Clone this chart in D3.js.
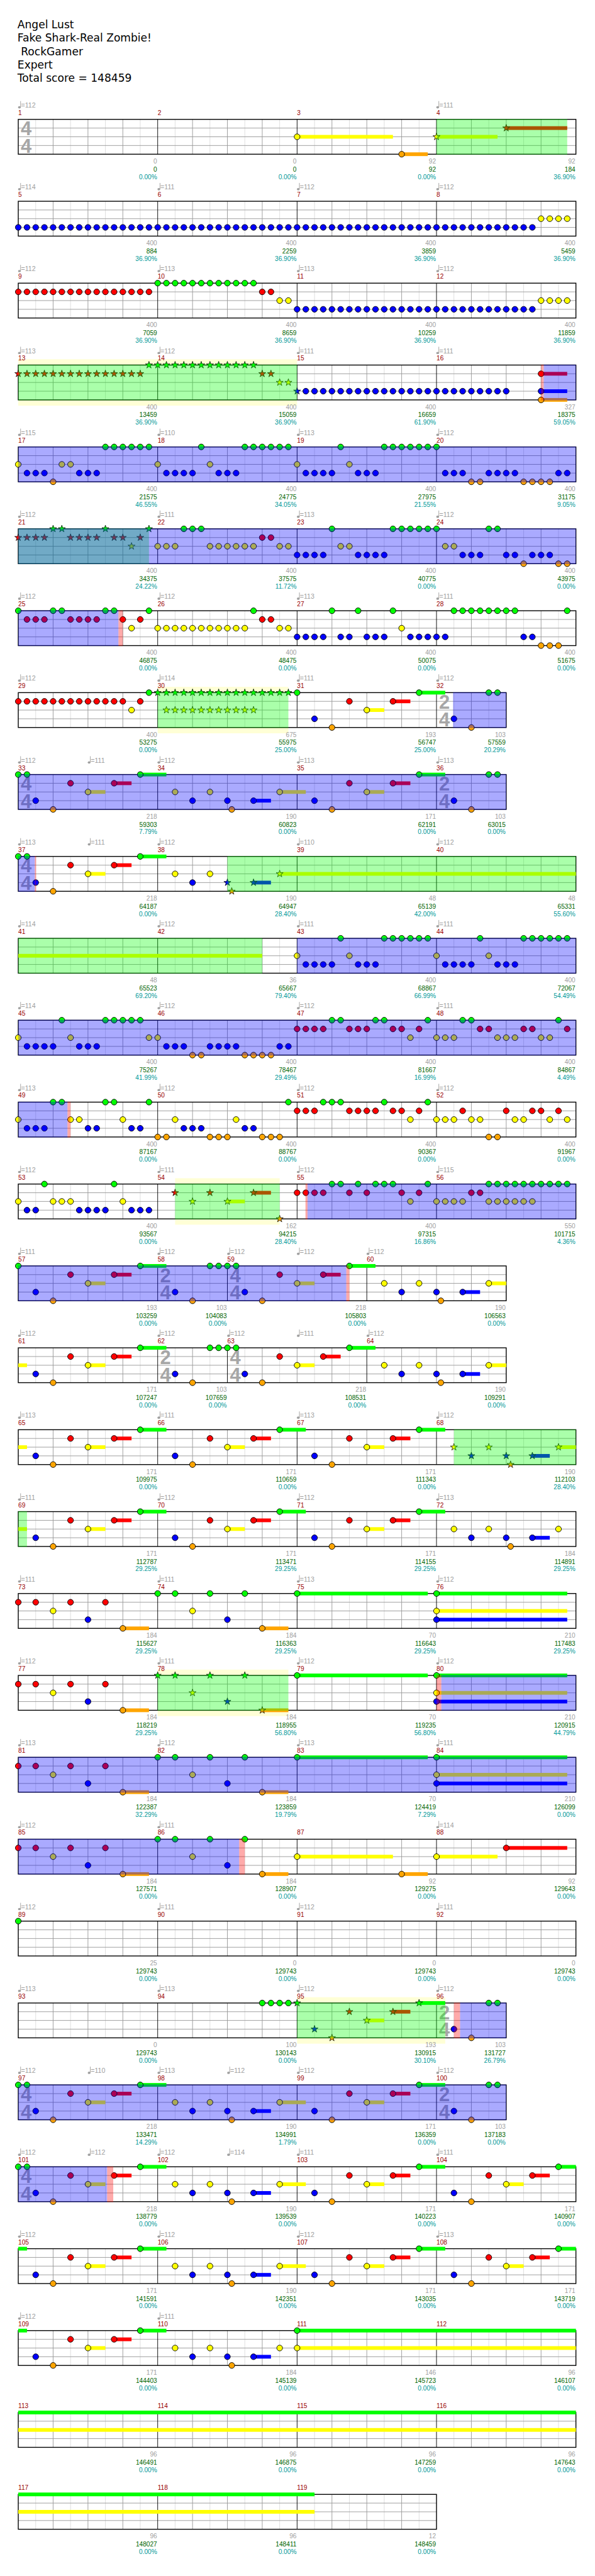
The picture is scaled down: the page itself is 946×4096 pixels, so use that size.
<!DOCTYPE html>
<html><head><meta charset="utf-8">
<script src="https://cdn.jsdelivr.net/npm/d3@7"></script>
<style>body{margin:0;background:#fff} svg{display:block}</style>
</head><body>
<script>
// ---------------- DATA ----------------
const titleLines = ["Angel Lust", "Fake Shark-Real Zombie!", " RockGamer", "Expert", "Total score = 148459"];

const measureBeats = [4,4,4,4, 4,4,4,4, 4,4,4,4, 4,4,4,4, 4,4,4,4, 4,4,4,4, 4,4,4,4, 4,4,4,2,
  4,4,4,2, 4,4,4,4, 4,4,4,4, 4,4,4,4, 4,4,4,4, 4,4,4,4, 4,2,4,4, 4,2,4,4, 4,4,4,4, 4,4,4,4,
  4,4,4,4, 4,4,4,4, 4,4,4,4, 4,4,4,4, 4,4,4,4, 4,4,4,2, 4,4,4,2, 4,4,4,4, 4,4,4,4, 4,4,4,4,
  4,4,4,4, 4,4,4];

const timeSigs = [[1,4,4],[32,2,4],[33,4,4],[36,2,4],[37,4,4],[58,2,4],[59,4,4],[62,2,4],[63,4,4],
  [96,2,4],[97,4,4],[100,2,4],[101,4,4]];

// [measure, position in 16ths, bpm]
const tempos = [[1,0,112],[4,0,111],[5,0,114],[6,0,111],[7,0,112],[8,0,112],[9,0,112],[10,0,113],[11,0,113],[12,0,112],
  [13,0,113],[14,0,112],[15,0,111],[16,0,111],[17,0,115],[18,0,110],[19,0,113],[20,0,112],[21,0,112],[22,0,111],
  [23,0,113],[24,0,112],[25,0,112],[26,0,112],[27,0,113],[28,0,111],[29,0,112],[30,0,114],[31,0,111],[32,0,112],
  [33,0,112],[33,8,111],[34,0,112],[35,0,113],[36,0,113],[37,0,113],[37,8,111],[38,0,112],[39,0,110],[40,0,112],
  [41,0,114],[42,0,112],[43,0,111],[44,0,111],[45,0,114],[46,0,112],[47,0,112],[48,0,111],[49,0,113],[50,0,112],
  [51,0,112],[52,0,112],[53,0,112],[54,0,111],[55,0,112],[56,0,115],[57,0,111],[58,0,112],[59,0,112],[59,8,112],
  [60,0,112],[61,0,112],[62,0,112],[63,0,112],[63,8,111],[64,0,112],[65,0,113],[66,0,111],[67,0,113],[68,0,112],
  [69,0,111],[70,0,112],[71,0,112],[72,0,113],[73,0,111],[74,0,111],[75,0,113],[76,0,112],[77,0,112],[78,0,111],
  [79,0,112],[80,0,112],[81,0,113],[82,0,112],[83,0,113],[84,0,111],[85,0,112],[86,0,111],[88,0,114],[89,0,112],
  [90,0,111],[91,0,112],[92,0,111],[93,0,113],[94,0,113],[95,0,112],[96,0,112],[97,0,112],[97,8,110],[98,0,113],
  [98,8,112],[99,0,112],[100,0,112],[101,0,112],[101,8,112],[102,0,112],[102,8,114],[103,0,111],[104,0,111],
  [105,0,112],[106,0,112],[107,0,112],[108,0,113],[109,0,112],[110,0,111]];

const measureScore = [0,0,92,92, 400,400,400,400, 400,400,400,400, 400,400,400,327, 400,400,400,400,
  400,400,400,400, 400,400,400,400, 400,675,193,103, 218,190,171,103, 218,190,48,48, 48,36,400,400,
  400,400,400,400, 400,400,400,400, 400,162,400,550, 193,103,218,190, 171,103,218,190, 171,171,171,190,
  171,171,171,184, 184,184,70,210, 184,184,70,210, 184,184,70,210, 184,184,92,92, 25,0,0,0,
  0,100,193,103, 218,190,171,103, 218,190,171,171, 171,190,171,171, 171,184,146,96, 96,96,96,96, 96,96,12];

const totalScore = [0,0,92,184, 884,2259,3859,5459, 7059,8659,10259,11859, 13459,15059,16659,18375,
  21575,24775,27975,31175, 34375,37575,40775,43975, 46875,48475,50075,51675, 53275,55975,56747,57559,
  59303,60823,62191,63015, 64187,64947,65139,65331, 65523,65667,68867,72067, 75267,78467,81667,84867,
  87167,88767,90367,91967, 93567,94215,97315,101715, 103259,104083,105803,106563, 107247,107659,108531,109291,
  109975,110659,111343,112103, 112787,113471,114155,114891, 115627,116363,116643,117483, 118219,118955,119235,120915,
  122387,123859,124419,126099, 127571,128907,129275,129643, 129743,129743,129743,129743, 129743,130143,130915,131727,
  133471,134991,136359,137183, 138779,139539,140223,140907, 141591,142351,143035,143719, 144403,145139,145723,146107,
  146491,146875,147259,147643, 148027,148411,148459];

const percentText = ["0.00%","0.00%","0.00%","36.90%", "36.90%","36.90%","36.90%","36.90%",
  "36.90%","36.90%","36.90%","36.90%", "36.90%","36.90%","61.90%","59.05%", "46.55%","34.05%","21.55%","9.05%",
  "24.22%","11.72%","0.00%","0.00%", "0.00%","0.00%","0.00%","0.00%", "0.00%","25.00%","25.00%","20.29%",
  "7.79%","0.00%","0.00%","0.00%", "0.00%","28.40%","42.00%","55.60%", "69.20%","79.40%","66.99%","54.49%",
  "41.99%","29.49%","16.99%","4.49%", "0.00%","0.00%","0.00%","0.00%", "0.00%","28.40%","16.86%","4.36%",
  "0.00%","0.00%","0.00%","0.00%", "0.00%","0.00%","0.00%","0.00%", "0.00%","0.00%","0.00%","28.40%",
  "29.25%","29.25%","29.25%","29.25%", "29.25%","29.25%","29.25%","29.25%", "29.25%","56.80%","56.80%","44.79%",
  "32.29%","19.79%","7.29%","0.00%", "0.00%","0.00%","0.00%","0.00%", "0.00%","0.00%","0.00%","0.00%",
  "0.00%","0.00%","30.10%","26.79%", "14.29%","1.79%","0.00%","0.00%", "0.00%","0.00%","0.00%","0.00%",
  "0.00%","0.00%","0.00%","0.00%", "0.00%","0.00%","0.00%","0.00%", "0.00%","0.00%","0.00%","0.00%",
  "0.00%","0.00%","0.00%"];

// per measure: "<pos16><lanes>[~sustain16]" ; lanes g r y b o ; uppercase = star note
const noteCharts = [
  "", "", "0y~11 12o~3", "0Y~7 8R~7",
  "0b 1b 2b 3b 4b 5b 6b 7b 8b 9b 10b 11b 12b 13b 14b 15b",
  "0b 1b 2b 3b 4b 5b 6b 7b 8b 9b 10b 11b 12b 13b 14b 15b",
  "0b 1b 2b 3b 4b 5b 6b 7b 8b 9b 10b 11b 12b 13b 14b 15b",
  "0b 1b 2b 3b 4b 5b 6b 7b 8b 9b 10b 11b 12y 13y 14y 15y",
  "0r 1r 2r 3r 4r 5r 6r 7r 8r 9r 10r 11r 12r 13r 14r 15r",
  "0g 1g 2g 3g 4g 5g 6g 7g 8g 9g 10g 11g 12r 13r 14y 15y",
  "0b 1b 2b 3b 4b 5b 6b 7b 8b 9b 10b 11b 12b 13b 14b 15b",
  "0b 1b 2b 3b 4b 5b 6b 7b 8b 9b 10b 11b 12y 13y 14y 15y",
  "0R 1R 2R 3R 4R 5R 6R 7R 8R 9R 10R 11R 12R 13R 14R 15G",
  "0G 1G 2G 3G 4G 5G 6G 7G 8G 9G 10G 11G 12R 13R 14Y 15Y",
  "0B 1b 2b 3b 4b 5b 6b 7b 8b 9b 10b 11b 12b 13b 14b 15b",
  "0b 1b 2b 3b 4b 5b 6b 7b 8b 12rbo~3",
  "0y 1b 2b 3b 4o 5y 6y 7b 8b 9b 10g 11g 12g 13g 14g 15g",
  "0y 1b 2b 3b 4b 5g 6y 7b 8b 9b 10g 11g 12g 13g 14g 15g",
  "0y 1b 2b 3b 4b 5g 6y 7b 8b 9b 10g 11g 12g 13g 14g 15g",
  "0g 1b 2b 3b 4o 5o 6b 7b 8b 9b 10o 11o 12o 13o 14b 15b",
  "0R 1R 2R 3R 4G 5G 6R 7R 8R 9R 10G 11R 12R 13Y 14R 15G",
  "0y 1y 2y 3g 4g 5g 6y 7y 8y 9y 10y 11y 12r 13r 14y 15y",
  "0b 1b 2b 3b 4g 5y 6y 7b 8b 9b 10b 11g 12g 13g 14g 15g",
  "0g 1y 2y 3b 4b 5b 6g 7g 8b 9b 10o 11b 12b 13b 14o 15o",
  "0g 1r 2r 3r 4g 5g 6r 7r 8r 9r 10g 11g 12r 13y 14r 15g",
  "0y 1y 2y 3y 4y 5y 6y 7y 8y 9y 10y 11g 12r 13r 14y 15y",
  "0b 1b 2b 3b 4g 5b 6b 7g 8b 9b 10b 11g 12y 13b 14b 15b",
  "0b 1b 2g 3g 4g 5g 6g 7g 8g 9g 10b 11b 12o 13o 14o 15g",
  "0r 1r 2r 3r 4r 5r 6r 7r 8r 9r 10r 11r 12r 13y 14r 15g",
  "0G 1GY 2GY 3GY 4GY 5GY 6GY 7GY 8GY 9GY 10GY 11GY 12G 13G 14G 15G",
  "0g 2b 4o 6r 8y~2 11r~2 14g~3",
  "2b 4o 6g 7g",
  "0g 1g 2b 4o 6r 8y~2 11r~2 14g~3",
  "2y 4b 6y 8b 8.5o 11b~2 14y~3",
  "2b 4o 6r 8y~2 11r~2 14g~3",
  "2b 4o 6g 7g",
  "0g 1g 2b 4o 6r 8y~2 11r~2 14g~3",
  "2y 4b 6y 8B 8.5O 11B~2 14Y~62",
  "", "", "", "",
  "0y 1b 2b 3b 4b 5g 6y 7b 8b 9b 10g 11g 12g 13g 14g 15g",
  "0y 1b 2b 3b 4b 5g 6y 7b 8b 9b 10g 11g 12g 13g 14g 15g",
  "0y 1b 2b 3b 4b 5g 6y 7b 8b 9b 10g 11g 12g 13g 14g 15y",
  "0y 1b 2b 3b 4o 5o 6b 7b 8b 9b 10o 11o 12o 13o 14b 15b",
  "0r 1r 2r 3r 4g 5g 6r 7r 8r 9g 10g 11r 12r 13y 14r 15g",
  "0y 1y 2y 3g 4g 5r 6r 7y 8y 9y 10r 11r 12y 13y 14g 15r",
  "0y 1b 2b 3b 4g 5g 6y 7y 8b 9b 10g 11g 12y 13b 14b 15g",
  "0o 1o 2y 3b 4b 5b 6o 7o 8o 9y 10b 11b 12o 13o 14o 15g",
  "0r 1r 2r 3g 4g 5g 6r 7r 8r 9r 10g 11r 12r 13y 14r 15g",
  "0y 1y 2y 3r 4y 5y 6o 7o 8r 9y 10y 11r 12r 13y 14r 15y",
  "0y 1b 2b 3g 4y 5y 6y 7b 8b 9b 10b 11g 12y 13b 14b 15b",
  "2R 4Y 6R 8Y~2 11R~2 14O",
  "0r 1r 2r 3r 4g 5g 6r 7g 8r 9g 10g 11g 12r 13y 14r 15g",
  "0y 1y 2y 3y 4r 5r 6gy 7gy 8gy 9gy 10gy 11gy 12g 13g 14g 15g",
  "0g 2b 4o 6r 8y~2 11r~2 14g~3",
  "2b 4o 6g 7g",
  "0g 1g 2b 4o 6r 8y~2 11r~2 14g~3",
  "2y 4b 6y 8b 8.5o 11b~2 14y~3",
  "2b 4o 6r 8y~2 11r~2 14g~3",
  "2b 4o 6g 7g",
  "0g 1g 2b 4o 6r 8y~2 11r~2 14g~3",
  "2y 4b 6y 8b 8.5o 11b~2 14y~3",
  "2b 4o 6r 8y~2 11r~2 14g~3",
  "2b 4o 6r 8y~2 11r~2 14g~3",
  "2b 4o 6r 8y~2 11r~2 14g~3",
  "2Y 4B 6Y 8B 8.5O 11B~2 14Y~3",
  "2b 4o 6r 8y~2 11r~2 14g~3",
  "2b 4o 6r 8y~2 11r~2 14g~3",
  "2b 4o 6r 8y~2 11r~2 14g~3",
  "2y 4b 6y 8b 8.5o 11b~2 14y",
  "0r 2r 4y 6r 8b 10r 12o~3",
  "0g 2g 4y 6g 8b 10g 12o~3",
  "0g~15",
  "0gyb~15",
  "0r 2r 4y 6r 8b 10r 12o~3",
  "0G 2G 4Y 6G 8B 10G 12O~3",
  "0g~15",
  "0gyb~15",
  "0r 2r 4y 6r 8b 10r 12o~3",
  "0g 2g 4y 6g 8b 10g 12o~3",
  "0g~15",
  "0gyb~15",
  "0r 2r 4y 6r 8b 10r 12o~3",
  "0g 2g 4y 6g 8b 10g 12o~3",
  "0y~11 12o~3",
  "0y~7 8r~7",
  "0g", "", "", "",
  "", "12g 13g 14g 15g",
  "0G 2B 4O 6R 8Y~2 11R~2 14G~3",
  "2b 4o 6g 7g",
  "0g 1g 2b 4o 6r 8y~2 11r~2 14g~3",
  "2y 4b 6y 8b 8.5o 11b~2 14y~3",
  "2b 4o 6r 8y~2 11r~2 14g~3",
  "2b 4o 6g 7g",
  "0g 1g 2b 4o 6r 8y~2 11r~2 14g~3",
  "2y 4b 6y 8b 8.5o 11b~2 14y~3",
  "2b 4o 6r 8y~2 11r~2 14g~3",
  "2b 4o 6r 8y~2 11r~2 14g~3",
  "2b 4o 6r 8y~2 11r~2 14g~3",
  "2y 4b 6y 8b 8.5o 11b~2 14y~3",
  "2b 4o 6r 8y~2 11r~2 14g~3",
  "2b 4o 6r 8y~2 11r~2 14g~3",
  "2b 4o 6r 8y~2 11r~2 14g~3",
  "2y 4b 6y 8b 8.5o 11b~2 14y",
  "0gy~130", "",
  "", "", "", "",
  "", "", ""
];

// regions: [measureA, posA, measureB, posB]
const phraseBands = [[13,0,14,16],[30,0,30,15],[54,2,54,14],[78,0,78,15],[95,0,96,1]];
const starRegions = [[4,0,4,15],[13,0,14,16],[21,0,21,15],[30,0,30,15],[38,8,42,12],[54,2,54,14],[68,2,69,1],[78,0,78,15],[95,0,96,1]];
const driveRegions = [[16,12.3,25,11.5],[32,1.9,37,1.9],[43,0,49,5.65],[55,1.2,59,13.65],[80,0.55,86,9.35],[96,2.7,101,10.2]];
const activationMarks = [[16,12,16,12.3],[25,11.5,25,12],[37,1.9,37,2.05],[49,5.65,49,6],[55,0.96,55,1.2],[59,13.65,59,14],
  [80,0,80,0.55],[86,9.35,86,10],[96,2,96,2.7],[101,10.2,101,10.9]];

// ---------------- DRAWING ----------------
const laneFill = ["#00ff00", "#ff0000", "#ffff00", "#0000ff", "#ffa500"];
const X0 = 31.3, PX = 15, TOP0 = 205.5, ROWH = 141, STAFFH = 60;
const SMALL = "'Liberation Sans', Arial, sans-serif";

const svg = d3.select("body").append("svg")
  .attr("width", 946).attr("height", 4096)
  .attr("viewBox", "0 0 1024 4435");

svg.append("g").selectAll("text").data(titleLines).join("text")
  .attr("x", 30).attr("y", (d, i) => 48.5 + i * 23.15)
  .attr("font-family", "'DejaVu Sans', sans-serif").attr("font-size", 18.5)
  .attr("fill", "#000").style("white-space", "pre").text(d => d);

const nM = measureBeats.length;
const mStart = [];
let acc = 0;
measureBeats.forEach(b => { mStart.push(acc); acc += b * 4; });
const mEnd = i => mStart[i] + measureBeats[i] * 4;
const tickOf = (m, p) => mStart[m - 1] + p;
const measureAt = t => d3.bisectRight(mStart, t) - 1;

// parse notes
const notes = [];
noteCharts.forEach((str, i) => {
  str.split(/\s+/).filter(Boolean).forEach(tok => {
    const mt = tok.match(/^([\d.]+)([a-zA-Z]+)(?:~(\d+))?$/);
    const pos = +mt[1], sus = mt[3] ? +mt[3] : 0;
    for (const ch of mt[2]) {
      const lane = "gryboGRYBO".indexOf(ch) % 5;
      notes.push({ tick: tickOf(i + 1, pos), lane, sus, star: ch !== ch.toLowerCase() });
    }
  });
});

const rows = d3.range(Math.ceil(nM / 4)).map(r => {
  const ms = d3.range(r * 4, Math.min(nM, r * 4 + 4));
  return { ms, t0: mStart[ms[0]], t1: mEnd(ms[ms.length - 1]), top: TOP0 + r * ROWH };
});

const starSym = d3.symbol().type(d3.symbolStar).size(46);

rows.forEach(row => {
  const g = svg.append("g");
  const x = d3.scaleLinear().domain([row.t0, row.t1]).range([X0, X0 + (row.t1 - row.t0) * PX]);
  const y = d3.scaleLinear().domain([0, 4]).range([row.top, row.top + STAFFH]);
  const spans = list => list.map(([m1, p1, m2, p2]) => [tickOf(m1, p1), tickOf(m2, p2)])
    .filter(([a, b]) => b > row.t0 && a < row.t1)
    .map(([a, b]) => [Math.max(a, row.t0), Math.min(b, row.t1)]);

  // phrase bands (pale yellow, behind)
  g.selectAll(null).data(spans(phraseBands)).join("rect")
    .attr("x", d => x(d[0])).attr("width", d => x(d[1]) - x(d[0]))
    .attr("y", y(0) - 10).attr("height", STAFFH + 20).attr("fill", "#ffffd6");

  // staff background
  g.append("rect").attr("x", x(row.t0)).attr("y", y(0))
    .attr("width", x(row.t1) - x(row.t0)).attr("height", STAFFH).attr("fill", "#fff");

  // vertical grid
  const grid = d3.range(row.t0 + 2, row.t1, 2).map(t => ({ t, rel: t - mStart[measureAt(t)] }))
    .filter(d => d.rel !== 0);
  g.selectAll(null).data(grid.filter(d => d.rel % 4 !== 0)).join("line")
    .attr("x1", d => x(d.t)).attr("x2", d => x(d.t)).attr("y1", y(0)).attr("y2", y(4))
    .attr("stroke", "#dcdcdc").attr("stroke-width", 1);
  g.selectAll(null).data(grid.filter(d => d.rel % 4 === 0)).join("line")
    .attr("x1", d => x(d.t)).attr("x2", d => x(d.t)).attr("y1", y(0)).attr("y2", y(4))
    .attr("stroke", "#999").attr("stroke-width", 1);
  // lane lines
  g.selectAll(null).data([1, 2, 3]).join("line")
    .attr("x1", x(row.t0)).attr("x2", x(row.t1)).attr("y1", d => y(d)).attr("y2", d => y(d))
    .attr("stroke", "#999").attr("stroke-width", 1);
  // measure lines
  g.selectAll(null).data(row.ms.slice(1)).join("line")
    .attr("x1", d => x(mStart[d])).attr("x2", d => x(mStart[d])).attr("y1", y(0)).attr("y2", y(4))
    .attr("stroke", "#000").attr("stroke-width", 1);
  // border
  g.append("rect").attr("x", x(row.t0)).attr("y", y(0))
    .attr("width", x(row.t1) - x(row.t0)).attr("height", STAFFH)
    .attr("fill", "none").attr("stroke", "#000").attr("stroke-width", 1.5);

  // time signatures
  const ts = timeSigs.filter(d => row.ms.includes(d[0] - 1));
  ts.forEach(([m, num, den]) => {
    const tx = x(mStart[m - 1]) + 4.2;
    g.append("text").attr("x", tx).attr("y", y(0) + 27.8).text(num)
      .attr("font-family", SMALL).attr("font-weight", "bold").attr("font-size", 33.5).attr("fill", "#a6a6a6");
    g.append("text").attr("x", tx).attr("y", y(0) + 57.8).text(den)
      .attr("font-family", SMALL).attr("font-weight", "bold").attr("font-size", 33.5).attr("fill", "#a6a6a6");
  });

  // sustains
  const sus = notes.filter(n => n.sus > 0 && n.tick + n.sus > row.t0 && n.tick < row.t1)
    .map(n => ({ lane: n.lane, a: Math.max(n.tick, row.t0), b: Math.min(n.tick + n.sus, row.t1) }));
  g.selectAll(null).data(sus).join("rect")
    .attr("x", d => x(d.a)).attr("width", d => x(d.b) - x(d.a))
    .attr("y", d => y(d.lane) - 3.2).attr("height", 6.4).attr("fill", d => laneFill[d.lane]);

  // notes
  const rn = notes.filter(n => n.tick >= row.t0 && n.tick < row.t1);
  g.selectAll(null).data(rn.filter(n => !n.star)).join("circle")
    .attr("cx", d => x(d.tick)).attr("cy", d => y(d.lane)).attr("r", 5)
    .attr("fill", d => laneFill[d.lane]).attr("stroke", "#000").attr("stroke-width", 1);
  g.selectAll(null).data(rn.filter(n => n.star)).join("path")
    .attr("d", starSym).attr("transform", d => `translate(${x(d.tick)},${y(d.lane)})`)
    .attr("fill", d => laneFill[d.lane]).attr("stroke", "#000").attr("stroke-width", 0.8);

  // overlays
  const ov = (list, color) => g.selectAll(null).data(spans(list)).join("rect")
    .attr("x", d => x(d[0])).attr("width", d => x(d[1]) - x(d[0]))
    .attr("y", y(0) - 0.75).attr("height", STAFFH + 1.5)
    .attr("fill", color).attr("fill-opacity", 1 / 3);
  ov(starRegions, "#00ff00");
  ov(driveRegions, "#0000ff");
  ov(activationMarks, "#ff0000");

  // tempo markers
  const tp = tempos.filter(d => row.ms.includes(d[0] - 1));
  tp.forEach(([m, p, bpm]) => {
    const tx = x(tickOf(m, p));
    g.append("ellipse").attr("cx", tx + 2).attr("cy", y(0) - 20.8).attr("rx", 2.4).attr("ry", 2)
      .attr("fill", "#a0a0a0");
    g.append("line").attr("x1", tx + 4).attr("x2", tx + 4).attr("y1", y(0) - 31.5).attr("y2", y(0) - 21)
      .attr("stroke", "#a0a0a0").attr("stroke-width", 1);
    g.append("text").attr("x", tx + 4.8).attr("y", y(0) - 20.5).text("=" + bpm)
      .attr("font-family", SMALL).attr("font-size", 11.5).attr("fill", "#a0a0a0");
  });

  // measure numbers
  g.selectAll(null).data(row.ms).join("text")
    .attr("x", d => x(mStart[d])).attr("y", y(0) - 7.6).text(d => d + 1)
    .attr("font-family", SMALL).attr("font-size", 11).attr("fill", "#990000");

  // labels under each measure
  const lab = (vals, dy, color) => g.selectAll(null).data(row.ms).join("text")
    .attr("x", d => x(mEnd(d)) - 1).attr("y", y(4) + dy).attr("text-anchor", "end")
    .text(d => vals[d]).attr("font-family", SMALL).attr("font-size", 11).attr("fill", color);
  lab(measureScore, 16, "#a0a0a0");
  lab(totalScore, 29.8, "#006400");
  lab(percentText, 42.7, "#009999");
});
</script>
</body></html>
